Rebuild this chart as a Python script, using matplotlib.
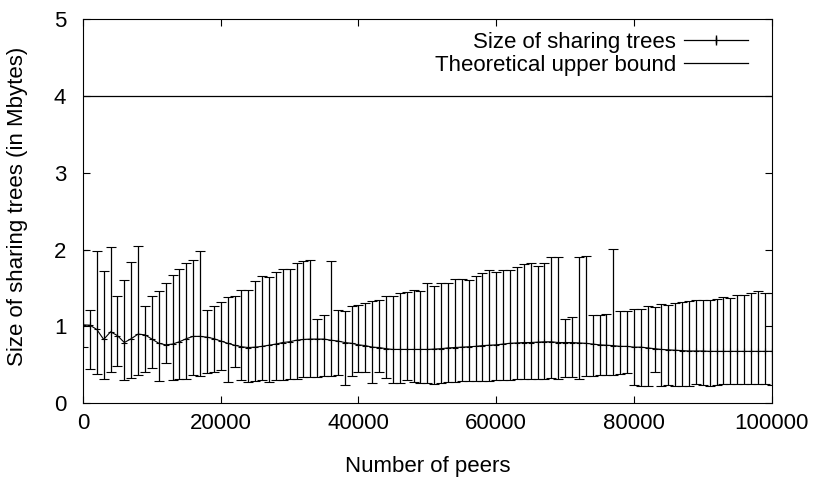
import numpy as np
import matplotlib.pyplot as plt
import matplotlib as mpl
from matplotlib.lines import Line2D

mpl.rcParams['font.family'] = ['Liberation Sans', 'DejaVu Sans']
mpl.rcParams['font.size'] = 16

# number of peers, one sample every 1000 peers
peers = np.arange(0, 101000, 1000)

# mean size of the sharing trees (Mbytes)
mean = [1.02, 1.016, 0.96, 0.83, 0.93, 0.88, 0.79, 0.84, 0.90, 0.89,
        0.835, 0.78, 0.76, 0.77, 0.80, 0.84, 0.87, 0.87, 0.86, 0.84,
        0.81, 0.78, 0.755, 0.735, 0.725, 0.73, 0.74, 0.755, 0.77, 0.79,
        0.80, 0.82, 0.83, 0.835, 0.835, 0.835, 0.82, 0.81, 0.79, 0.78,
        0.76, 0.75, 0.73, 0.725, 0.71, 0.70, 0.70, 0.70, 0.70, 0.70,
        0.70, 0.705, 0.71, 0.72, 0.725, 0.73, 0.735, 0.74, 0.75, 0.755,
        0.76, 0.77, 0.78, 0.785, 0.79, 0.79, 0.795, 0.80, 0.80, 0.79,
        0.79, 0.79, 0.785, 0.78, 0.77, 0.76, 0.755, 0.75, 0.74, 0.74,
        0.73, 0.73, 0.72, 0.71, 0.70, 0.695, 0.69, 0.685, 0.68, 0.68,
        0.68, 0.675, 0.675, 0.675, 0.675, 0.675, 0.675, 0.675, 0.675, 0.675,
        0.675]

# min / max of the error bars
low = [0.73, 0.45, 0.38, 0.32, 0.41, 0.48, 0.30, 0.33, 0.37, 0.40,
       0.46, 0.29, 0.52, 0.30, 0.31, 0.32, 0.37, 0.36, 0.39, 0.41,
       0.43, 0.28, 0.47, 0.30, 0.27, 0.29, 0.30, 0.28, 0.30, 0.30,
       0.31, 0.32, 0.34, 0.34, 0.34, 0.35, 0.36, 0.37, 0.24, 0.36,
       0.41, 0.41, 0.26, 0.41, 0.33, 0.26, 0.26, 0.30, 0.28, 0.26,
       0.26, 0.25, 0.26, 0.27, 0.28, 0.285, 0.29, 0.29, 0.29, 0.295,
       0.30, 0.30, 0.30, 0.31, 0.32, 0.32, 0.32, 0.32, 0.33, 0.32,
       0.34, 0.34, 0.31, 0.36, 0.36, 0.365, 0.37, 0.37, 0.38, 0.39,
       0.24, 0.22, 0.23, 0.40, 0.23, 0.24, 0.23, 0.23, 0.23, 0.25,
       0.24, 0.23, 0.24, 0.256, 0.25, 0.256, 0.25, 0.25, 0.256, 0.25,
       0.24]

high = [2.00, 1.21, 1.98, 1.72, 2.04, 1.40, 1.61, 1.84, 2.05, 1.27,
        1.40, 1.46, 1.57, 1.67, 1.75, 1.83, 1.87, 1.98, 1.21, 1.27,
        1.32, 1.38, 1.40, 1.48, 1.48, 1.59, 1.66, 1.64, 1.71, 1.745,
        1.75, 1.83, 1.85, 1.86, 1.09, 1.15, 1.85, 1.21, 1.20, 1.26,
        1.28, 1.31, 1.33, 1.34, 1.39, 1.39, 1.43, 1.45, 1.47, 1.46,
        1.56, 1.52, 1.57, 1.57, 1.62, 1.62, 1.60, 1.66, 1.69, 1.74,
        1.71, 1.73, 1.74, 1.77, 1.81, 1.82, 1.78, 1.82, 1.905, 1.905,
        1.09, 1.12, 1.91, 1.92, 1.15, 1.15, 1.16, 2.01, 1.20, 1.20,
        1.23, 1.23, 1.26, 1.25, 1.29, 1.28, 1.30, 1.32, 1.33, 1.34,
        1.35, 1.34, 1.36, 1.385, 1.37, 1.41, 1.415, 1.43, 1.46, 1.44,
        1.44]

upper_bound = 4

mean = np.array(mean)
yerr = [mean - np.array(low), np.array(high) - mean]

fig = plt.figure(figsize=(8.14, 4.8), dpi=100)
ax = fig.add_axes([0.102, 0.160, 0.846, 0.800])

ax.errorbar(peers, mean, yerr=yerr, fmt='-', marker='+', ms=5, mew=0.8,
            color='black', lw=0.8, elinewidth=0.9, capsize=3.5, capthick=0.9)
ax.axhline(upper_bound, color='black', lw=0.9)

ax.set_xlim(0, 100000)
ax.set_ylim(0, 5)
ax.set_xticks(np.arange(0, 100001, 20000))
ax.set_yticks(np.arange(0, 6, 1))
ax.tick_params(direction='in', length=5, top=True, right=True)
ax.tick_params(axis='x', pad=7)
ax.tick_params(axis='y', pad=12)
ax.set_xlabel('Number of peers')
ax.set_ylabel('Size of sharing trees (in Mbytes)')
ax.xaxis.set_label_coords(0.5, -0.138)
ax.yaxis.set_label_coords(-0.080, 0.513)

h1 = Line2D([], [], color='black', lw=0.9, marker='|', ms=7, markevery=[0, 2])
h1b = Line2D([], [], color='black', lw=0, marker='|', ms=4, markevery=[1])
h2 = Line2D([], [], color='black', lw=0.9)
fig.legend([(h1, h1b), h2], ['Size of sharing trees', 'Theoretical upper bound'],
           loc='upper right', frameon=False, markerfirst=False,
           handlelength=2.9, borderpad=0, borderaxespad=0, labelspacing=0.1,
           handletextpad=0.35, bbox_to_anchor=(748 / 814, 1 - 32 / 480))

fig.savefig('out.png', dpi=100)
